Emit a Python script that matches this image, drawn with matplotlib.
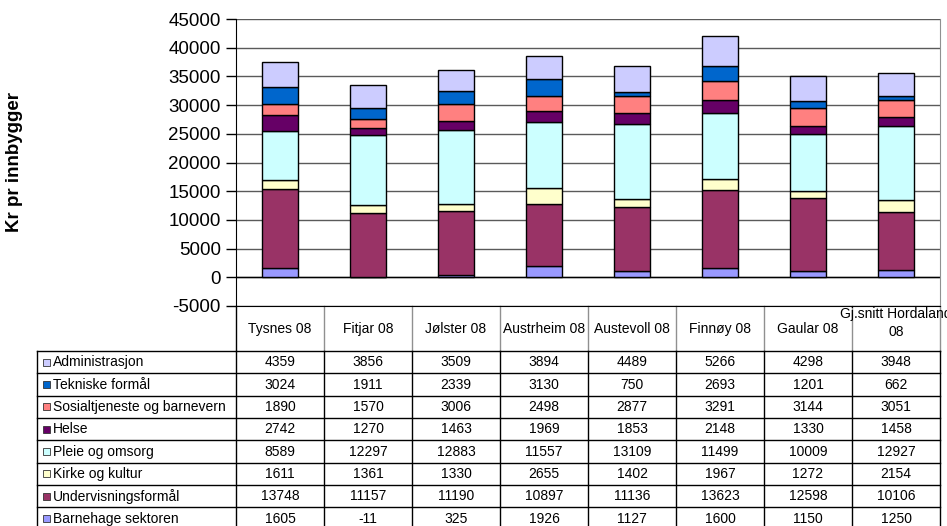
import numpy as np
import matplotlib.pyplot as plt
from matplotlib.patches import Rectangle

plt.rcParams['font.family'] = ['Liberation Sans', 'DejaVu Sans']
plt.rcParams['axes.unicode_minus'] = False

# Data
kommuner = ['Tysnes 08', 'Fitjar 08', 'Jølster 08', 'Austrheim 08', 'Austevoll 08',
            'Finnøy 08', 'Gaular 08', 'Gj.snitt Hordaland\n08']
sektorer = ['Administrasjon', 'Tekniske formål', 'Sosialtjeneste og barnevern', 'Helse',
            'Pleie og omsorg', 'Kirke og kultur', 'Undervisningsformål', 'Barnehage sektoren']
farger = ['#CCCCFF', '#0066CC', '#FF8080', '#660066', '#CCFFFF', '#FFFFCC', '#993366', '#9999FF']

administrasjon = [4359, 3856, 3509, 3894, 4489, 5266, 4298, 3948]
tekniske = [3024, 1911, 2339, 3130, 750, 2693, 1201, 662]
sosial = [1890, 1570, 3006, 2498, 2877, 3291, 3144, 3051]
helse = [2742, 1270, 1463, 1969, 1853, 2148, 1330, 1458]
pleie = [8589, 12297, 12883, 11557, 13109, 11499, 10009, 12927]
kirke = [1611, 1361, 1330, 2655, 1402, 1967, 1272, 2154]
undervisning = [13748, 11157, 11190, 10897, 11136, 13623, 12598, 10106]
barnehage = [1605, -11, 325, 1926, 1127, 1600, 1150, 1250]

verdier = [administrasjon, tekniske, sosial, helse, pleie, kirke, undervisning, barnehage]

W, H = 947, 526
fig = plt.figure(figsize=(W / 100, H / 100), dpi=100)

# pixel layout
x_left, x_right = 236, 940
y_top, y_bot = 19, 306
col_w = (x_right - x_left) / len(kommuner)
head_bot = 351
row_h = 22.35
leg_left = 37

# table axes in pixel coordinates
tab = fig.add_axes([0, 0, 1, 1])
tab.set_xlim(0, W)
tab.set_ylim(H, 0)
tab.axis('off')

ax = fig.add_axes([x_left / W, (H - y_bot) / H, (x_right - x_left) / W, (y_bot - y_top) / H])
ax.set_facecolor('none')

x = np.arange(len(kommuner))
pos_bottom = np.zeros(len(kommuner))
neg_bottom = np.zeros(len(kommuner))
for navn, vals, farge in reversed(list(zip(sektorer, verdier, farger))):
    vals = np.array(vals, dtype=float)
    bottom = np.where(vals >= 0, pos_bottom, neg_bottom)
    ax.bar(x, vals, bottom=bottom, width=0.41, color=farge, edgecolor='black',
           linewidth=1, zorder=3)
    pos_bottom += np.where(vals >= 0, vals, 0)
    neg_bottom += np.where(vals < 0, vals, 0)

ax.set_xlim(-0.5, len(kommuner) - 0.5)
ax.set_ylim(-5000, 45000)
ax.set_yticks(np.arange(-5000, 45001, 5000))
ax.set_xticks([])
ax.yaxis.grid(True, color='#5a5a5a', linewidth=1)
ax.set_axisbelow(True)
ax.axhline(0, color='black', linewidth=1, zorder=2)
ax.tick_params(axis='y', direction='out', length=7, width=1, labelsize=13.5, pad=4)
ax.spines['top'].set_visible(False)
ax.spines['right'].set_color('#909090')
ax.spines['left'].set_color('black')
ax.spines['bottom'].set_color('black')
ax.set_ylabel('Kr pr innbygger', fontsize=13.5, fontweight='bold', labelpad=0)
ax.yaxis.set_label_coords(-(x_left - 23) / (x_right - x_left), 0.5)

# data table
n_rows = len(sektorer)
edges = [x_left + i * col_w for i in range(len(kommuner) + 1)]
tab_bot = head_bot + n_rows * row_h

# header row
for i, e in enumerate(edges):
    c = 'black' if i == 0 else '#909090'
    tab.plot([e, e], [y_bot, head_bot], color=c, lw=1)
for i, navn in enumerate(kommuner):
    yc = 323 if '\n' in navn else 329
    tab.text((edges[i] + edges[i + 1]) / 2, yc, navn,
             ha='center', va='center', fontsize=10, linespacing=1.45)

# rows
for k in range(n_rows + 1):
    y = head_bot + k * row_h
    tab.plot([leg_left, x_right], [y, y], color='black', lw=1)
for e in [leg_left] + edges:
    tab.plot([e, e], [head_bot, tab_bot], color='black', lw=1)

for r, (navn, vals, farge) in enumerate(zip(sektorer, verdier, farger)):
    yc = head_bot + (r + 0.5) * row_h
    tab.add_patch(Rectangle((43, yc - 3.5), 7, 7, facecolor=farge,
                            edgecolor='#333333', lw=0.6))
    tab.text(53, yc, navn, ha='left', va='center', fontsize=10)
    for i, v in enumerate(vals):
        tab.text((edges[i] + edges[i + 1]) / 2, yc, str(v), ha='center',
                 va='center', fontsize=10)

fig.savefig('out.png', dpi=100)
